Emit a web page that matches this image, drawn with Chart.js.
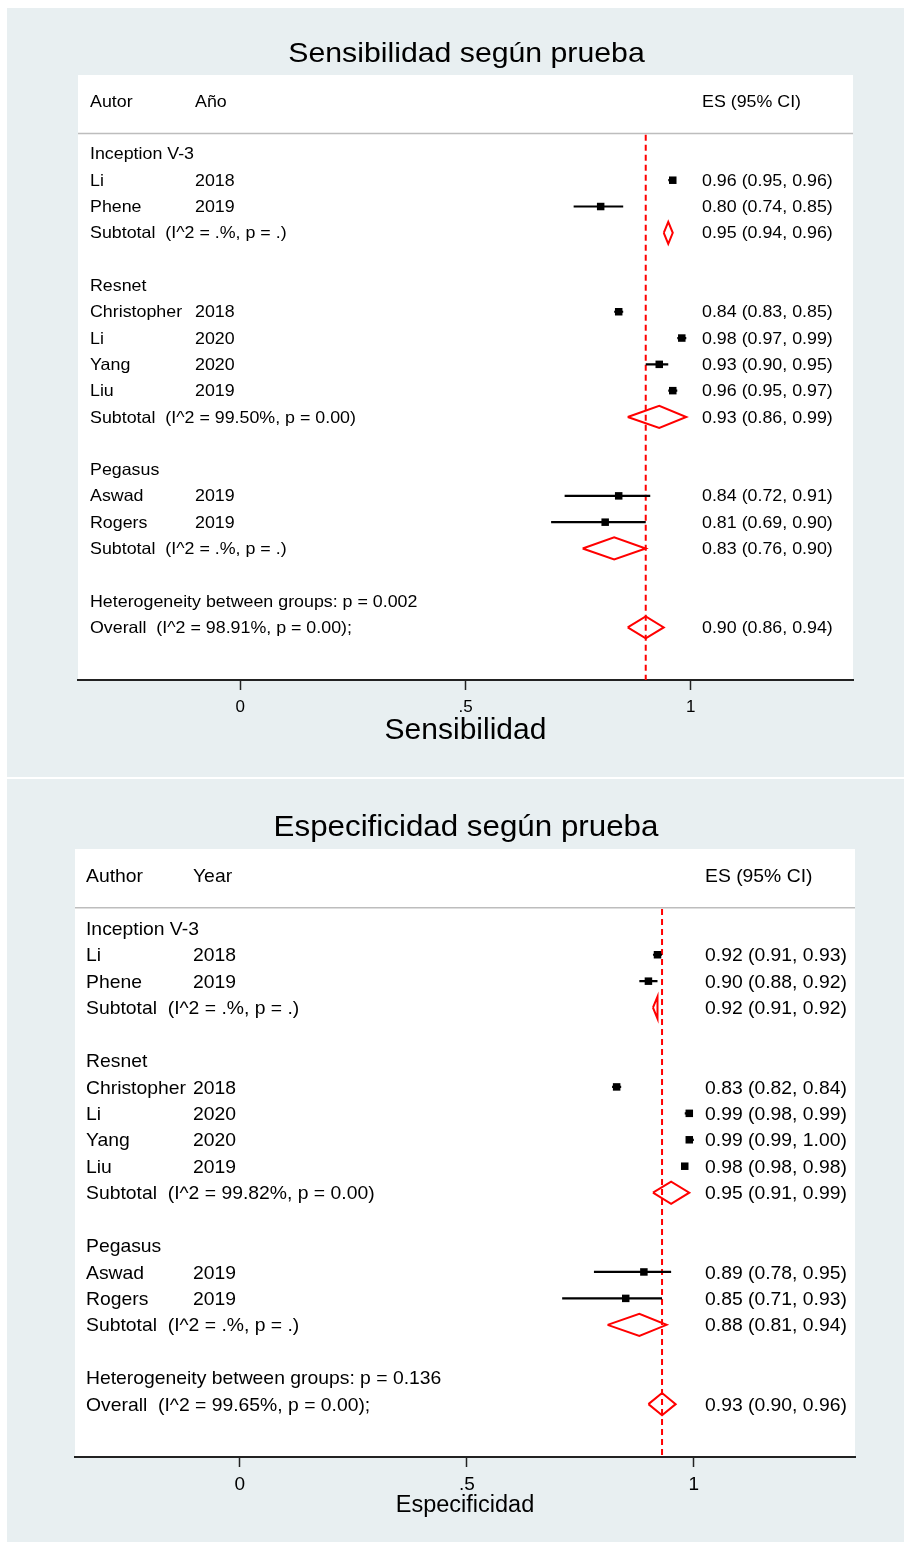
<!DOCTYPE html>
<html>
<head>
<meta charset="utf-8">
<script src="https://cdn.jsdelivr.net/npm/chart.js@4.4.1/dist/chart.umd.min.js"></script>
<style>
html,body{margin:0;padding:0;background:#ffffff;}
body{width:904px;height:1542px;position:relative;overflow:hidden;}
.panel{position:absolute;left:7px;width:897px;background:#e8eff1;}
#p1{top:8px;height:769px;}
#p2{top:779px;height:763px;}
canvas{position:absolute;left:0;}
#c1{top:0;}
#c2{top:779px;}
</style>
</head>
<body>
<div class="panel" id="p1"></div>
<div class="panel" id="p2"></div>
<canvas id="c1" width="904" height="779"></canvas>
<canvas id="c2" width="904" height="763"></canvas>
<script>
// ---------------- DATA ----------------
const groups = ["Inception V-3", "Resnet", "Pegasus"];
const authors = ["Li", "Phene", "Christopher", "Li", "Yang", "Liu", "Aswad", "Rogers"];
const years = ["2018", "2019", "2018", "2020", "2020", "2019", "2019", "2019"];
const groupOf = [0, 0, 1, 1, 1, 1, 2, 2];

// Sensibilidad
const sensES = [0.96, 0.80, 0.84, 0.98, 0.93, 0.96, 0.84, 0.81];
const sensLo = [0.95, 0.74, 0.83, 0.97, 0.90, 0.95, 0.72, 0.69];
const sensHi = [0.96, 0.85, 0.85, 0.99, 0.95, 0.97, 0.91, 0.90];
const sensSubES = [0.95, 0.93, 0.83];
const sensSubLo = [0.94, 0.86, 0.76];
const sensSubHi = [0.96, 0.99, 0.90];
const sensSubI2 = [".", "99.50", "."];
const sensSubP = [".", "0.00", "."];
const sensOverall = [0.90, 0.86, 0.94];
const sensOverallI2 = "98.91";
const sensOverallP = "0.00";
const sensHetP = "0.002";

// Especificidad
const specES = [0.92, 0.90, 0.83, 0.99, 0.99, 0.98, 0.89, 0.85];
const specLo = [0.91, 0.88, 0.82, 0.98, 0.99, 0.98, 0.78, 0.71];
const specHi = [0.93, 0.92, 0.84, 0.99, 1.00, 0.98, 0.95, 0.93];
const specSubES = [0.92, 0.95, 0.88];
const specSubLo = [0.91, 0.91, 0.81];
const specSubHi = [0.92, 0.99, 0.94];
const specSubI2 = [".", "99.82", "."];
const specSubP = [".", "0.00", "."];
const specOverall = [0.93, 0.90, 0.96];
const specOverallI2 = "99.65";
const specOverallP = "0.00";
const specHetP = "0.136";

// Tick labels
const xTickValues = [0, 0.5, 1];
const xTickLabels = ["0", ".5", "1"];

// ---------------- HELPERS ----------------
const FONT = '"Liberation Sans", Arial, Helvetica, sans-serif';

function buildRows(gOf, nGroups) {
  let r = 2;
  const groupRow = [], studyRow = [], subRow = [];
  for (let g = 0; g < nGroups; g++) {
    groupRow.push(r); r++;
    gOf.forEach((gg, i) => { if (gg === g) { studyRow[i] = r; r++; } });
    subRow.push(r); r += 2;
  }
  return { groupRow, studyRow, subRow, hetRow: r, overallRow: r + 1 };
}

function fmt(v) { return v.toFixed(2); }
function ciText(e, l, h) { return fmt(e) + " (" + fmt(l) + ", " + fmt(h) + ")"; }

function drawStr(ctx, s, x, y, size, sx, align) {
  ctx.save();
  ctx.font = size + "px " + FONT;
  ctx.fillStyle = "#000";
  ctx.textBaseline = "middle";
  ctx.textAlign = align || "left";
  ctx.translate(x, y);
  ctx.scale(sx, 1);
  ctx.fillText(s, 0, 0);
  ctx.restore();
}

function makeForest(canvasId, d, st) {
  const R = buildRows(d.groupOf, d.groups.length);
  const H = 0.42; // diamond half height, in rows

  const markers = d.es.map((v, i) => ({ x: v, y: R.studyRow[i] }));
  const ci = [];
  d.es.forEach((v, i) => {
    ci.push({ x: d.lo[i], y: R.studyRow[i] }, { x: d.hi[i], y: R.studyRow[i] }, { x: d.hi[i], y: null });
  });
  const dia = [];
  function addDiamond(e, l, h, r) {
    dia.push({ x: l, y: r }, { x: e, y: r - H }, { x: h, y: r }, { x: e, y: r + H }, { x: l, y: r }, { x: l, y: null });
  }
  d.subES.forEach((e, g) => addDiamond(e, d.subLo[g], d.subHi[g], R.subRow[g]));
  addDiamond(d.overall[0], d.overall[1], d.overall[2], R.overallRow);

  const textPlugin = {
    id: "forestText" + canvasId,
    beforeDraw(chart) {
      const { ctx, chartArea: a } = chart;
      ctx.save();
      ctx.fillStyle = "#ffffff";
      ctx.fillRect(a.left, a.top, a.right - a.left, a.bottom - a.top);
      ctx.restore();
    },
    beforeDatasetsDraw(chart) {
      const { ctx, chartArea: a } = chart;
      const y = chart.scales.y.getPixelForValue(st.sepRow);
      ctx.save();
      ctx.strokeStyle = "#bdbdbd";
      ctx.lineWidth = 1.5;
      ctx.beginPath();
      ctx.moveTo(a.left, y);
      ctx.lineTo(a.right, y);
      ctx.stroke();
      ctx.restore();
    },
    afterDatasetsDraw(chart) {
      const { ctx, chartArea: a } = chart;
      const ys = chart.scales.y;
      const py = (r) => ys.getPixelForValue(r) + st.textDy;
      const c1 = a.left + st.col1, c2 = a.left + st.col2, c3 = a.left + st.col3;
      const fs = st.size, sx = st.sx;
      // title
      drawStr(ctx, d.title, (a.left + a.right) / 2 + 1, st.titleY, st.titleSize, st.titleSx, "center");
      // header
      const y0 = py(0);
      drawStr(ctx, d.headers[0], c1, y0, fs, sx);
      drawStr(ctx, d.headers[1], c2, y0, fs, sx);
      drawStr(ctx, d.headers[2], c3, y0, fs, sx);
      d.groups.forEach((g, gi) => {
        drawStr(ctx, g, c1, py(R.groupRow[gi]), fs, sx);
        const yr = py(R.subRow[gi]);
        drawStr(ctx, "Subtotal  (I^2 = " + d.subI2[gi] + "%, p = " + d.subP[gi] + ")", c1, yr, fs, sx);
        drawStr(ctx, ciText(d.subES[gi], d.subLo[gi], d.subHi[gi]), c3, yr, fs, sx);
      });
      d.es.forEach((e, i) => {
        const yr = py(R.studyRow[i]);
        drawStr(ctx, d.authors[i], c1, yr, fs, sx);
        drawStr(ctx, d.years[i], c2, yr, fs, sx);
        drawStr(ctx, ciText(e, d.lo[i], d.hi[i]), c3, yr, fs, sx);
      });
      drawStr(ctx, "Heterogeneity between groups: p = " + d.hetP, c1, py(R.hetRow), fs, sx);
      const yo = py(R.overallRow);
      drawStr(ctx, "Overall  (I^2 = " + d.overallI2 + "%, p = " + d.overallP + ");", c1, yo, fs, sx);
      drawStr(ctx, ciText(d.overall[0], d.overall[1], d.overall[2]), c3, yo, fs, sx);
    }
  };

  return new Chart(document.getElementById(canvasId), {
    type: "scatter",
    data: {
      datasets: [
        { type: "scatter", label: "Estudios", data: markers, pointStyle: "rect", pointRadius: 5.3,
          pointHoverRadius: 5.3, backgroundColor: "#000", borderColor: "#000", borderWidth: 0, order: 0 },
        { type: "line", label: "IC 95%", data: ci, borderColor: "#000", borderWidth: 2.2, pointRadius: 0,
          showLine: true, spanGaps: false, fill: false, order: 1 },
        { type: "line", label: "Subtotal", data: dia, borderColor: "#ff0000", borderWidth: 2, pointRadius: 0,
          showLine: true, spanGaps: false, fill: false, tension: 0, borderJoinStyle: "miter", order: 2 },
        { type: "line", label: "Overall", data: [{ x: d.overall[0], y: st.sepRow + 0.05 }, { x: d.overall[0], y: 22 }],
          borderColor: "#ff0000", borderWidth: 2, borderDash: [6, 4], pointRadius: 0, showLine: true, fill: false, order: 3 }
      ]
    },
    options: {
      responsive: false,
      animation: false,
      events: [],
      layout: { padding: { left: st.left, right: st.right, top: st.top, bottom: 0 } },
      plugins: { legend: { display: false }, tooltip: { enabled: false }, title: { display: false } },
      scales: {
        x: {
          type: "linear", min: st.xmin, max: st.xmax,
          afterBuildTicks: (s) => { s.ticks = xTickValues.map(v => ({ value: v })); },
          afterFit: (s) => { s.height = st.xAxisH; },
          ticks: {
            autoSkip: false, maxRotation: 0, color: "#000", padding: st.tickPad,
            font: { family: FONT, size: st.tickSize },
            callback: (v) => { const k = xTickValues.indexOf(v); return k >= 0 ? xTickLabels[k] : ""; }
          },
          grid: { display: true, drawOnChartArea: false, drawTicks: true, tickLength: 10, tickWidth: 1.5, tickColor: "#222" },
          border: { display: true, color: "#222", width: 2 },
          title: { display: true, text: d.xTitle, color: "#000",
                   font: { family: FONT, size: st.xTitleSize }, padding: { top: 0, bottom: st.xTitlePad } }
        },
        y: { type: "linear", min: -1, max: 22, reverse: true, display: false }
      }
    },
    plugins: [textPlugin]
  });
}

makeForest("c1", {
  title: "Sensibilidad según prueba", xTitle: "Sensibilidad",
  headers: ["Autor", "Año", "ES (95% CI)"],
  groups, authors, years, groupOf,
  es: sensES, lo: sensLo, hi: sensHi,
  subES: sensSubES, subLo: sensSubLo, subHi: sensSubHi, subI2: sensSubI2, subP: sensSubP,
  overall: sensOverall, overallI2: sensOverallI2, overallP: sensOverallP, hetP: sensHetP
}, {
  left: 78, right: 51, top: 75, xAxisH: 99, xmin: -0.36, xmax: 1.36,
  col1: 12, col2: 117, col3: 624, size: 16.5, sx: 1.08, textDy: 1,
  titleY: 54, titleSize: 28, titleSx: 1.08, sepRow: 1.22,
  tickSize: 17, tickPad: 7, xTitleSize: 30, xTitlePad: 30
});

makeForest("c2", {
  title: "Especificidad según prueba", xTitle: "Especificidad",
  headers: ["Author", "Year", "ES (95% CI)"],
  groups, authors, years, groupOf,
  es: specES, lo: specLo, hi: specHi,
  subES: specSubES, subLo: specSubLo, subHi: specSubHi, subI2: specSubI2, subP: specSubP,
  overall: specOverall, overallI2: specOverallI2, overallP: specOverallP, hetP: specHetP
}, {
  left: 75, right: 49, top: 70, xAxisH: 85, xmin: -0.363, xmax: 1.355,
  col1: 11, col2: 118, col3: 630, size: 18.6, sx: 1.04, textDy: 1.5,
  titleY: 49, titleSize: 29, titleSx: 1.08, sepRow: 1.22,
  tickSize: 19, tickPad: 6, xTitleSize: 23.5, xTitlePad: 22
});
</script>
</body>
</html>
